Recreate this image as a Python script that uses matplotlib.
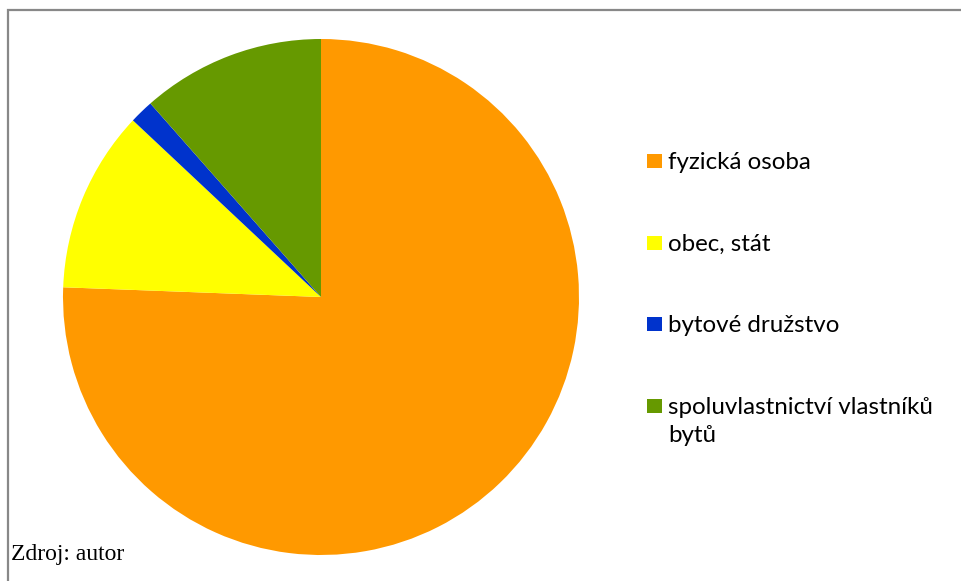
import matplotlib.pyplot as plt
from matplotlib.patches import Rectangle

# Data (podíl vlastníků, %)
labels = ['fyzická osoba', 'obec, stát', 'bytové družstvo',
          'spoluvlastnictví vlastníků\nbytů']
values = [75.6, 11.4, 1.5, 11.5]
colors = ['#FF9900', '#FFFF00', '#0033CC', '#669900']

W, H = 961, 581
fig = plt.figure(figsize=(W / 100, H / 100), dpi=100)

# Gray frame (right and bottom edges are cut off)
fig.patches.append(Rectangle((8 / W, -0.1), 1.2, (H - 10) / H + 0.1,
                             transform=fig.transFigure, fill=False,
                             edgecolor='#888888', linewidth=1.6))

# Pie
cx, cy, r = 321, 297, 258
ax = fig.add_axes([(cx - r) / W, (H - cy - r) / H, 2 * r / W, 2 * r / H])
ax.pie(values, colors=colors, startangle=90, counterclock=False,
       radius=1, wedgeprops=dict(linewidth=0))
ax.set_xlim(-1, 1)
ax.set_ylim(-1, 1)
ax.set_aspect('equal')
ax.axis('off')

# Legend drawn by hand so the square sits on the first line
base0, dy, line_h = 169, 81.5, 28
for i, (lab, col) in enumerate(zip(labels, colors)):
    b = base0 + i * dy
    fig.patches.append(Rectangle((647 / W, (H - b + 1) / H), 15 / W, 14 / H,
                                 transform=fig.transFigure,
                                 facecolor=col, edgecolor='none'))
    for k, line in enumerate(lab.split('\n')):
        fig.text(668 / W, (H - b - k * line_h) / H, line, fontsize=17.4,
                 family='Lato', ha='left', va='baseline')

fig.text(11 / W, (H - 560) / H, 'Zdroj: autor', fontsize=17,
         family='Liberation Serif', ha='left', va='baseline')

fig.savefig('out.png', dpi=100)
